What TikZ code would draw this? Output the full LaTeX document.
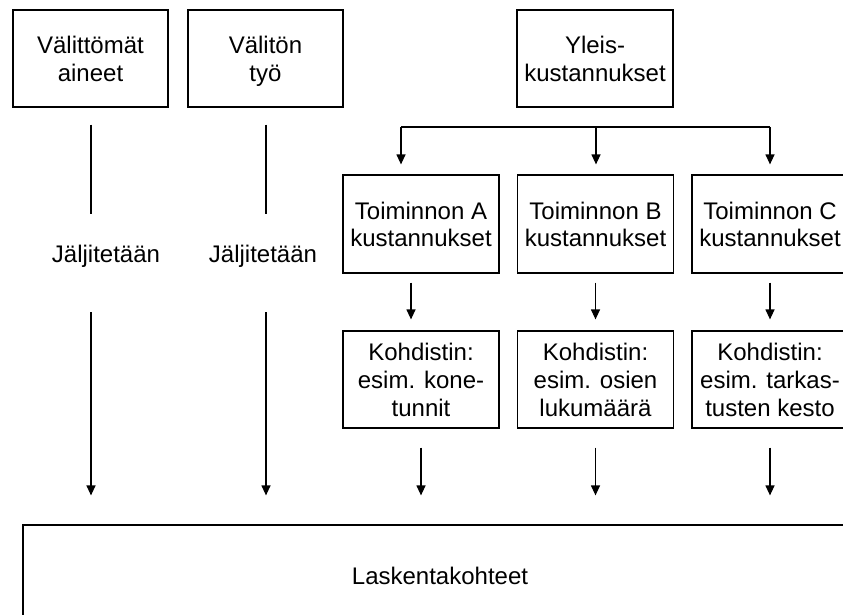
\documentclass[tikz,border=0pt]{standalone}
\usepackage{fontspec}
\setmainfont{Liberation Sans}
\usetikzlibrary{arrows.meta}
% line strut: every text line gets the same height and depth
\newcommand\lnstrut{\rule[-4.8pt]{0pt}{27.6pt}}
\begin{document}
\begin{tikzpicture}[x=1pt,y=-1pt,
  txt/.style={font=\fontsize{24}{27.6}\selectfont},
  box/.style={txt, draw, line width=1.2pt, minimum width=155pt, minimum height=97pt,
              align=center, inner sep=0pt},
  lbl/.style={txt, inner sep=0pt},
  link/.style={line width=1.2pt},
  arr/.style={link, -{Triangle[length=10pt,width=9pt]}}
]
\useasboundingbox (0,0) rectangle (843,615);
\clip (0,0) rectangle (843,615);

% top row: cost sources
\node[box] (mat) at (90.5,58.5) {\lnstrut Välittömät\\aineet\lnstrut};
\node[box] (lab) at (265.5,58.5) {\lnstrut Välitön\\työ\lnstrut};
\node[box, minimum width=156pt] (ovh) at (595,58.5) {\lnstrut Yleis-\\kustannukset\lnstrut};

% activity cost pools
\node[box, minimum width=156pt, minimum height=98pt] (actA) at (421,224) {\lnstrut Toiminnon A\\kustannukset\lnstrut};
\node[box, minimum width=156pt, minimum height=98pt] (actB) at (595.5,224) {\lnstrut Toiminnon B\\kustannukset\lnstrut};
\node[box, minimum width=156pt, minimum height=98pt] (actC) at (770,224) {\lnstrut Toiminnon C\\kustannukset\lnstrut};

% cost drivers
\node[box, minimum width=156pt] (drvA) at (421,379.5) {\lnstrut Kohdistin:\\esim. kone-\\tunnit\lnstrut};
\node[box, minimum width=156pt] (drvB) at (595.5,379.5) {\lnstrut Kohdistin:\\esim. osien\\lukumäärä\lnstrut};
\node[box, minimum width=156pt] (drvC) at (770,379.5) {\lnstrut Kohdistin:\\esim. tarkas-\\tusten kesto\lnstrut};

% cost objects
\node[box, minimum width=834pt, minimum height=100pt] (obj) at (440,575) {\lnstrut Laskentakohteet};

% tracing labels
\node[lbl] (trA) at (106,254) {\lnstrut Jäljitetään};
\node[lbl] (trB) at (263,254) {\lnstrut Jäljitetään};

% direct costs: line, label, arrow
\coordinate (matU) at (91,214);
\coordinate (matL) at (91,312);
\coordinate (labU) at (266,214);
\coordinate (labL) at (266,312);
\draw[link, shorten <=17pt] (mat.south -| matU) -- (matU);
\draw[arr, shorten >=29pt] (matL) -- (matL |- obj.north);
\draw[link, shorten <=17pt] (lab.south -| labU) -- (labU);
\draw[arr, shorten >=29pt] (labL) -- (labL |- obj.north);

% overhead distribution bus
\coordinate (bus0) at (401,127);
\coordinate (bus1) at (596,127);
\coordinate (bus2) at (770,127);
\draw[link] (bus0) -- (bus2);
\draw[arr, shorten >=10pt] (bus0) -- (bus0 |- actA.north);
\draw[arr, shorten >=10pt] (bus1) -- (bus1 |- actB.north);
\draw[arr, shorten >=10pt] (bus2) -- (bus2 |- actC.north);

% activity pools to drivers
\draw[arr, shorten <=9pt, shorten >=11pt] ([xshift=-10pt]actA.south) -- ([xshift=-10pt]drvA.north);
\draw[arr, shorten <=9pt, shorten >=11pt] (actB.south) -- (drvB.north);
\draw[arr, shorten <=9pt, shorten >=11pt] (actC.south) -- (drvC.north);

% drivers to cost objects
\draw[arr, shorten <=19pt, shorten >=29pt] (drvA.south) -- (drvA.south |- obj.north);
\draw[arr, shorten <=19pt, shorten >=29pt] (drvB.south) -- (drvB.south |- obj.north);
\draw[arr, shorten <=19pt, shorten >=29pt] (drvC.south) -- (drvC.south |- obj.north);
\end{tikzpicture}
\end{document}
